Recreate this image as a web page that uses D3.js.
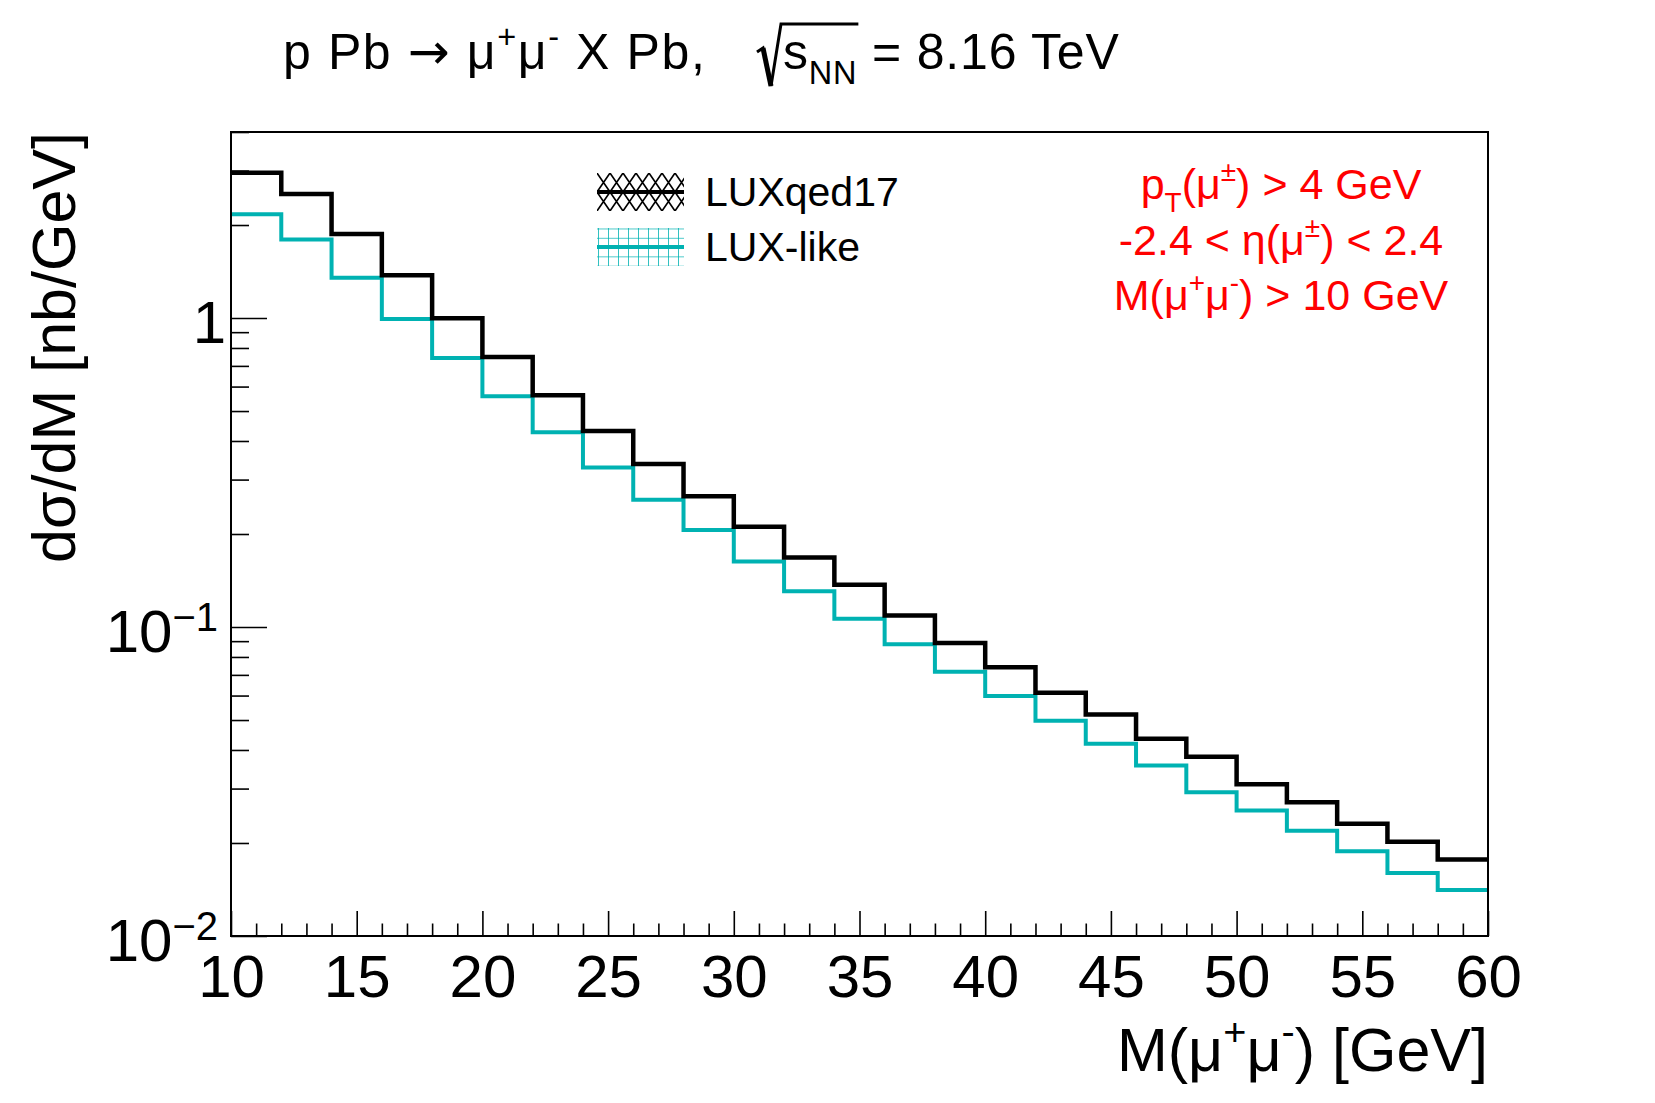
<!DOCTYPE html>
<html>
<head>
<meta charset="utf-8">
<script src="https://cdn.jsdelivr.net/npm/d3@7"></script>
<style>
body { margin: 0; background: #fff; }
text { font-family: "Liberation Sans", Arial, Helvetica, sans-serif; }
</style>
</head>
<body>
<svg id="mysvg" width="1655" height="1103"></svg>
<script>
// bin edges of M(mu+mu-) [GeV]
var massEdges = [10, 12, 14, 16, 18, 20, 22, 24, 26, 28, 30, 32, 34, 36, 38, 40, 42, 44, 46, 48, 50, 52, 54, 56, 58, 60];
// dsigma/dM [nb/GeV], one value per bin
var luxqed17 = [2.95, 2.52, 1.87, 1.375, 0.998, 0.748, 0.562, 0.431, 0.337, 0.265, 0.211, 0.168, 0.137,
	0.109, 0.0887, 0.0741, 0.0613, 0.0521, 0.0435, 0.0380, 0.0310, 0.0271, 0.0231, 0.0202, 0.0177];
var luxlike = [2.166, 1.794, 1.351, 0.993, 0.742, 0.558, 0.427, 0.328, 0.258, 0.206, 0.163, 0.1305, 0.1063,
	0.0880, 0.0717, 0.0598, 0.0497, 0.0419, 0.0356, 0.0292, 0.0255, 0.0219, 0.0188, 0.0160, 0.0141];
var xMajorTicks = [10, 15, 20, 25, 30, 35, 40, 45, 50, 55, 60];
var yMajorTicks = [0.01, 0.1, 1];
var yTickLabels = [["10", "\u22122"], ["10", "\u22121"], ["1", ""]];
var legendNames = ["LUXqed17", "LUX-like"];

var cyan = "#00b2b2";
var svg = d3.select("#mysvg");
var frame = {l: 231, r: 1488, t: 132, b: 936};

var x = d3.scaleLinear().domain([10, 60]).range([frame.l, frame.r]);
var y = d3.scaleLog().domain([0.01, 4]).range([frame.b, frame.t]);

// text with sub/superscripts, p = [text, kind, font]
function rich (sel, parts, size) {
	var shift = 0;
	parts.forEach(function (p) {
		var target = 0, fs = size;
		if (p[1] === "sup") { target = -0.42 * size; fs = size * 0.65; }
		if (p[1] === "sub") { target = 0.3 * size; fs = size * 0.65; }
		var ts = sel.append("tspan").text(p[0]).attr("font-size", fs).attr("dy", target - shift);
		if (p[2]) ts.style("font-family", p[2]);
		shift = target;
	});
	return sel;
}

// patterns for legend
var defs = svg.append("defs");
defs.append("pattern").attr("id", "hatchBlack").attr("patternUnits", "userSpaceOnUse")
	.attr("x", 597).attr("y", 173).attr("width", 13).attr("height", 19)
	.append("path").attr("d", "M0,0L13,19M13,0L0,19").attr("stroke", "#000").attr("stroke-width", 1.6);
var gp = defs.append("pattern").attr("id", "gridCyan").attr("patternUnits", "userSpaceOnUse")
	.attr("x", 598).attr("y", 228.5).attr("width", 10).attr("height", 9.3);
gp.append("path").attr("d", "M0,0V9.3M0,0H10").attr("stroke", cyan).attr("stroke-width", 1.6);

// minor ticks
var xMinor = d3.range(10, 61).filter(function (d) { return d % 5 !== 0; });
var yMinor = [];
[0.01, 0.1, 1].forEach(function (dec) {
	for (var k = 2; k <= 9; ++k) {
		if (dec * k <= 4.0001) yMinor.push(dec * k);
	}
});

function styleAxis (g) {
	g.select(".domain").remove();
	g.selectAll("line").attr("stroke", "#000").attr("stroke-width", 1.6);
}

svg.append("g").attr("transform", "translate(0," + frame.b + ")")
	.call(d3.axisBottom(x).tickValues(xMinor).tickSize(-12.5).tickFormat(""))
	.call(styleAxis);
var xg = svg.append("g").attr("transform", "translate(0," + frame.b + ")")
	.call(d3.axisBottom(x).tickValues(xMajorTicks).tickSize(-25).tickFormat(d3.format("d")))
	.call(styleAxis)
	.attr("font-size", 60);
xg.selectAll("text").attr("y", 61).attr("dy", null).attr("fill", "#000");

svg.append("g").attr("transform", "translate(" + frame.l + ",0)")
	.call(d3.axisLeft(y).tickValues(yMinor).tickSize(-18).tickFormat(""))
	.call(styleAxis);
var yg = svg.append("g").attr("transform", "translate(" + frame.l + ",0)")
	.call(d3.axisLeft(y).tickValues(yMajorTicks).tickSize(-36).tickFormat(""))
	.call(styleAxis);
yg.selectAll(".tick text").remove();
yg.selectAll(".tick").each(function (d, i) {
	var t = d3.select(this).append("text")
		.attr("x", i === 2 ? -5 : -13).attr("y", 24)
		.attr("text-anchor", "end").attr("fill", "#000");
	var lab = yTickLabels[i];
	if (lab[1] === "") rich(t, [[lab[0], "n"]], 60);
	else {
		t.append("tspan").text(lab[0]).attr("font-size", 60);
		t.append("tspan").text(lab[1]).attr("font-size", 40).attr("dy", -21);
	}
});

// histograms
var line = d3.line()
	.x(function (d) { return x(d[0]); })
	.y(function (d) { return y(d[1]); })
	.curve(d3.curveStepAfter);

function steps (vals) {
	var pts = vals.map(function (v, i) { return [massEdges[i], v]; });
	pts.push([massEdges[massEdges.length - 1], vals[vals.length - 1]]);
	return pts;
}

svg.append("path").attr("d", line(steps(luxlike)))
	.attr("fill", "none").attr("stroke", cyan).attr("stroke-width", 4);
svg.append("path").attr("d", line(steps(luxqed17)))
	.attr("fill", "none").attr("stroke", "#000").attr("stroke-width", 4.5);

// frame
svg.append("rect").attr("x", frame.l).attr("y", frame.t)
	.attr("width", frame.r - frame.l).attr("height", frame.b - frame.t)
	.attr("fill", "none").attr("stroke", "#000").attr("stroke-width", 2);

// axis titles
rich(svg.append("text").attr("x", frame.r).attr("y", 1071).attr("text-anchor", "end"),
	[["M(\u03bc", "n"], ["+", "sup"], ["\u03bc", "n"], ["-", "sup"], [") [GeV]", "n"]], 61);
svg.append("text").attr("transform", "translate(75," + frame.t + ") rotate(-90)")
	.attr("text-anchor", "end").attr("font-size", 61)
	.text("d\u03c3/dM [nb/GeV]");

// title
rich(svg.append("text").attr("x", 283).attr("y", 69).attr("letter-spacing", 1.6),
	[["p Pb ", "n"], ["\u2192", "n", "DejaVu Sans"], [" \u03bc", "n"], ["+", "sup"], ["\u03bc", "n"], ["-", "sup"], [" X Pb,", "n"]], 50);
var t2 = rich(svg.append("text").attr("x", 783).attr("y", 69).attr("letter-spacing", 0.8),
	[["s", "n"], ["NN", "sub"], [" = 8.16 TeV", "n"]], 50);
var spans = t2.selectAll("tspan").nodes();
var barEnd = 783 + spans[0].getComputedTextLength() + spans[1].getComputedTextLength() + 1;
svg.append("path").attr("d", "M757,52L763,48L771,86L781,24H" + barEnd)
	.attr("fill", "none").attr("stroke", "#000").attr("stroke-width", 3);
svg.append("path").attr("d", "M763,48L771,86")
	.attr("fill", "none").attr("stroke", "#000").attr("stroke-width", 5);

// cuts
var cuts = [
	[["p", "n"], ["T", "sub"], ["(\u03bc", "n"], ["\u00b1", "sup"], [") > 4 GeV", "n"]],
	[["-2.4 < \u03b7(\u03bc", "n"], ["\u00b1", "sup"], [") < 2.4", "n"]],
	[["M(\u03bc", "n"], ["+", "sup"], ["\u03bc", "n"], ["-", "sup"], [") > 10 GeV", "n"]]
];
var cutY = [199, 255, 310];
cuts.forEach(function (c, i) {
	rich(svg.append("text").attr("x", 1281).attr("y", cutY[i]).attr("text-anchor", "middle")
		.attr("fill", "#ff0000"), c, 43);
});

// legend
var legY = [173, 228];
var legFill = ["url(#hatchBlack)", "url(#gridCyan)"];
var legCol = ["#000", cyan];
legendNames.forEach(function (name, i) {
	svg.append("rect").attr("x", 597).attr("y", legY[i]).attr("width", 87).attr("height", 38)
		.attr("fill", legFill[i]);
	svg.append("line").attr("x1", 597).attr("x2", 684)
		.attr("y1", legY[i] + 19).attr("y2", legY[i] + 19)
		.attr("stroke", legCol[i]).attr("stroke-width", 4);
	svg.append("text").attr("x", 705).attr("y", legY[i] + 33).attr("font-size", 41).text(name);
});
</script>
</body>
</html>
